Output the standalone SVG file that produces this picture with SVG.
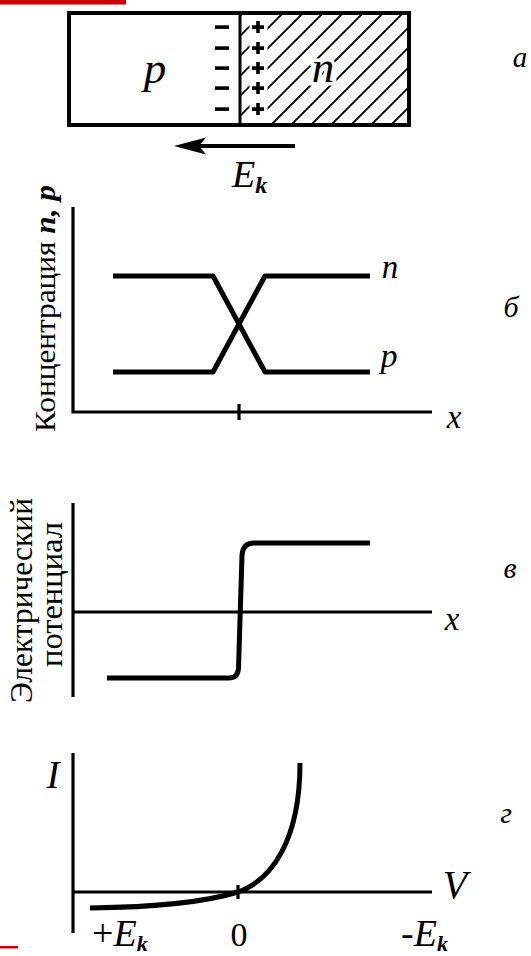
<svg xmlns="http://www.w3.org/2000/svg" width="531" height="956" viewBox="0 0 531 956">
<style>
.ax{fill:none;stroke:#000;stroke-width:3.2;stroke-linecap:butt}
.cv{fill:none;stroke:#000;stroke-width:5;stroke-linejoin:round;stroke-linecap:butt}
.hatch{fill:none;stroke:#000;stroke-width:1.8}
text{font-family:"Times New Roman","Liberation Serif",Tinos,"DejaVu Serif",serif;fill:#000}
.i{font-style:italic}
.bi{font-style:italic;font-weight:bold}
.sig{fill:#000}
</style>
<defs>
<clipPath id="nclip"><rect x="240" y="13" width="169" height="112"/></clipPath>
</defs>
<rect width="531" height="956" fill="#ffffff"/>
<rect x="0" y="0" width="126" height="4.5" fill="#cc0000"/>
<rect x="0" y="946" width="18" height="2.5" fill="#cc0000"/>

<g id="pn-junction">
<g clip-path="url(#nclip)">
<path class="hatch" d="M131 125L243 13M151 125L263 13M171 125L283 13M191 125L303 13M211 125L323 13M231 125L343 13M251 125L363 13M271 125L383 13M291 125L403 13M311 125L423 13M331 125L443 13M351 125L463 13M371 125L483 13M391 125L503 13M411 125L523 13"/>
</g>
<rect x="249.5" y="15" width="18" height="109" fill="#fff"/>
<rect x="69" y="13" width="340" height="112" fill="none" stroke="#000" stroke-width="4"/>
<line x1="240" y1="13" x2="240" y2="125" stroke="#000" stroke-width="3"/>
<g class="sig">
<rect x="215" y="25.3" width="14" height="3.6"/>
<rect x="215" y="46.3" width="14" height="3.6"/>
<rect x="215" y="66.3" width="14" height="3.6"/>
<rect x="215" y="86.3" width="14" height="3.6"/>
<rect x="215" y="107.3" width="14" height="3.6"/>
<path d="M252 25.3h12v3.6h-12z M256.2 21.1h3.6v12h-3.6z"/>
<path d="M252 46.3h12v3.6h-12z M256.2 42.1h3.6v12h-3.6z"/>
<path d="M252 66.3h12v3.6h-12z M256.2 62.1h3.6v12h-3.6z"/>
<path d="M252 86.3h12v3.6h-12z M256.2 82.1h3.6v12h-3.6z"/>
<path d="M252 107.3h12v3.6h-12z M256.2 103.1h3.6v12h-3.6z"/>
</g>
<text class="i" x="155" y="83" font-size="45" text-anchor="middle">p</text>
<text class="i" x="323" y="82" font-size="45" text-anchor="middle" stroke="#fff" stroke-width="7" paint-order="stroke">n</text>
<text class="i" x="520" y="67" font-size="29" text-anchor="middle">a</text>
</g>

<g id="connectors">
<line x1="197" y1="146" x2="295" y2="146" stroke="#000" stroke-width="4"/>
<path d="M174 146L206 137.5L199 146L206 154.5Z" fill="#000"/>
</g>
<g id="field-label">
<text x="232" y="187" font-size="38"><tspan class="i">E</tspan><tspan class="bi" font-size="24" dy="6">k</tspan></text>
</g>

<g id="concentration">
<path class="ax" d="M73 207V412H432"/>
<line class="ax" x1="239" y1="404" x2="239" y2="420"/>
<path class="cv" d="M113 276H213L265 372H370"/>
<path class="cv" d="M113 372H213L265 276H370"/>
<text transform="translate(55,308.5) rotate(-90)" font-size="30" text-anchor="middle" textLength="247" lengthAdjust="spacingAndGlyphs">Концентрация <tspan class="bi">n, p</tspan></text>
<text class="i" x="390" y="278" font-size="33" text-anchor="middle">n</text>
<text class="i" x="389" y="367" font-size="34" text-anchor="middle">p</text>
<text class="i" x="454" y="428" font-size="33" text-anchor="middle">x</text>
<text class="i" x="511" y="317" font-size="30" text-anchor="middle">б</text>
</g>

<g id="potential">
<line class="ax" x1="73" y1="503" x2="73" y2="697"/>
<line class="ax" x1="73" y1="612" x2="432" y2="612"/>
<path class="cv" d="M107 678H229Q238 678 238.5 668L242 555Q243 543 254 543H370"/>
<text transform="translate(32,600.5) rotate(-90)" font-size="31" text-anchor="middle" textLength="205" lengthAdjust="spacingAndGlyphs">Электрический</text>
<text transform="translate(62,594.5) rotate(-90)" font-size="31" text-anchor="middle" textLength="145" lengthAdjust="spacingAndGlyphs">потенциал</text>
<text class="i" x="452" y="630" font-size="33" text-anchor="middle">x</text>
<text class="i" x="510" y="578" font-size="30" text-anchor="middle">в</text>
</g>

<g id="iv-curve">
<line class="ax" x1="73" y1="753" x2="73" y2="933"/>
<line class="ax" x1="73" y1="892" x2="432" y2="892"/>
<line class="ax" x1="238" y1="885" x2="238" y2="899"/>
<path class="cv" d="M90 908C170 907 212 900 238 892C272 880 300 840 300 763"/>
<text class="i" x="53" y="788" font-size="39" text-anchor="middle">I</text>
<text class="i" x="455" y="898" font-size="40" text-anchor="middle">V</text>
<text x="92" y="946" font-size="38">+<tspan class="i">E</tspan><tspan class="bi" font-size="22" dy="5">k</tspan></text>
<text x="239" y="946" font-size="34" text-anchor="middle">0</text>
<text x="401" y="946" font-size="38">-<tspan class="i">E</tspan><tspan class="bi" font-size="22" dy="5">k</tspan></text>
<text class="i" x="506" y="823" font-size="30" text-anchor="middle">г</text>
</g>
</svg>
